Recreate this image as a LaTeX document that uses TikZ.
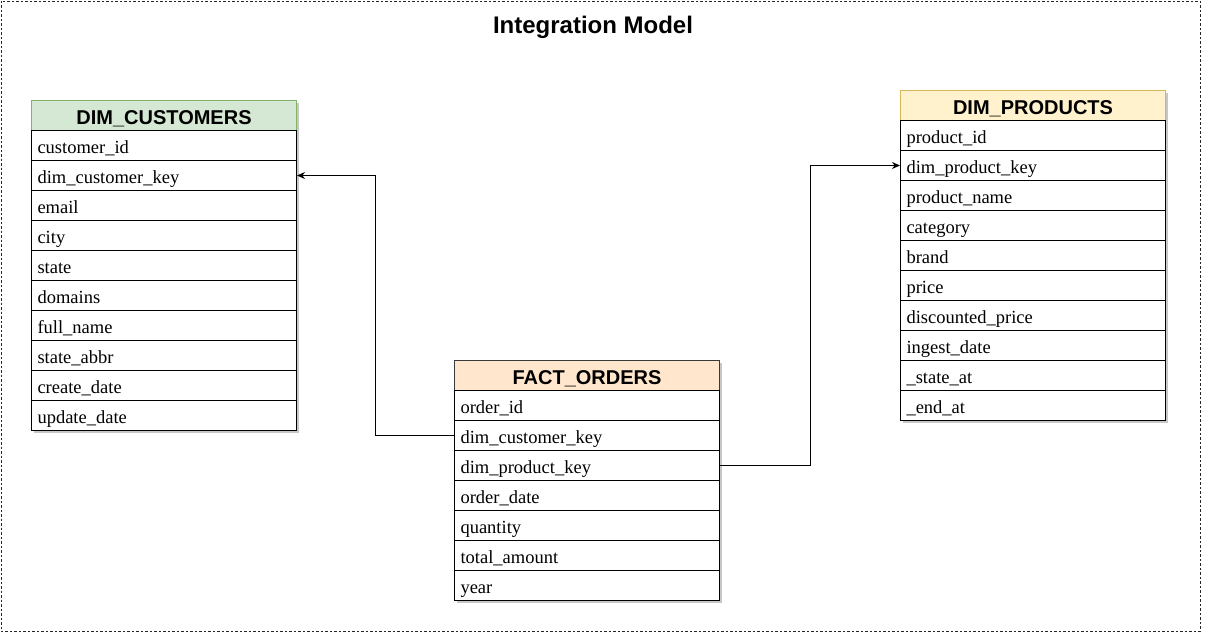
\documentclass[tikz,border=0pt]{standalone}
\usepackage{fontspec}
\setmainfont{Liberation Serif}
\newfontfamily\hdrfont{Liberation Sans}
\usetikzlibrary{shadows,arrows.meta}
\definecolor{custfill}{HTML}{D5E8D4}
\definecolor{custline}{HTML}{82B366}
\definecolor{prodfill}{HTML}{FFF2CC}
\definecolor{prodline}{HTML}{D6B656}
\definecolor{factfill}{HTML}{FFE6CC}
\definecolor{factline}{HTML}{36393D}
\tikzset{
  shad/.style={drop shadow={shadow xshift=2pt,shadow yshift=-2pt,opacity=0.22,fill=black}},
  rowbox/.style={draw=black,line width=1pt,fill=white,shad,anchor=north west,
    text width=253pt,inner xsep=6pt,inner ysep=0pt,minimum height=30pt,align=left,
    font=\fontsize{18.5}{20}\selectfont,text height=16pt,text depth=0pt},
  hdrbox/.style={line width=1pt,shad,anchor=north west,
    minimum width=265pt,minimum height=30pt,inner sep=0pt,align=center,
    font=\hdrfont\bfseries\fontsize{20}{22}\selectfont,text height=18pt,text depth=0pt},
  link/.style={draw=black,line width=1pt,-{Stealth[length=8pt,width=7pt]}},
  frame/.style={draw=black!85,dash pattern=on 2.5pt off 2pt,line width=0.9pt}
}
\begin{document}
\begin{tikzpicture}[x=1pt,y=-1pt]
\useasboundingbox (0,0) rectangle (1212,642);
\draw[frame] (1,1) rectangle (1200,631);
\node[font=\hdrfont\bfseries\fontsize{24}{26}\selectfont,anchor=base,inner sep=0pt] (title) at (593,34) {Integration Model};

% DIM_CUSTOMERS
\node[hdrbox,draw=custline,fill=custfill] (ch) at (31,100) {DIM\_CUSTOMERS};
\foreach \t [count=\i] in {customer\_id,dim\_customer\_key,email,city,state,domains,full\_name,state\_abbr,create\_date,update\_date}
  \node[rowbox] (c\i) at (31,{130+30*(\i-1)}) {\t};

% DIM_PRODUCTS
\node[hdrbox,draw=prodline,fill=prodfill] (ph) at (900,90) {DIM\_PRODUCTS};
\foreach \t [count=\i] in {product\_id,dim\_product\_key,product\_name,category,brand,price,discounted\_price,ingest\_date,\_state\_at,\_end\_at}
  \node[rowbox] (p\i) at (900,{120+30*(\i-1)}) {\t};

% FACT_ORDERS
\node[hdrbox,draw=factline,fill=factfill] (fh) at (454,360) {FACT\_ORDERS};
\foreach \t [count=\i] in {order\_id,dim\_customer\_key,dim\_product\_key,order\_date,quantity,total\_amount,year}
  \node[rowbox] (f\i) at (454,{390+30*(\i-1)}) {\t};

% connectors
\draw[link] (f2.west) -- (375,0 |- f2.west) -- (375,0 |- c2.east) -- (c2.east);
\draw[link] (f3.east) -- (810,0 |- f3.east) -- (810,0 |- p2.west) -- (p2.west);
\end{tikzpicture}
\end{document}
